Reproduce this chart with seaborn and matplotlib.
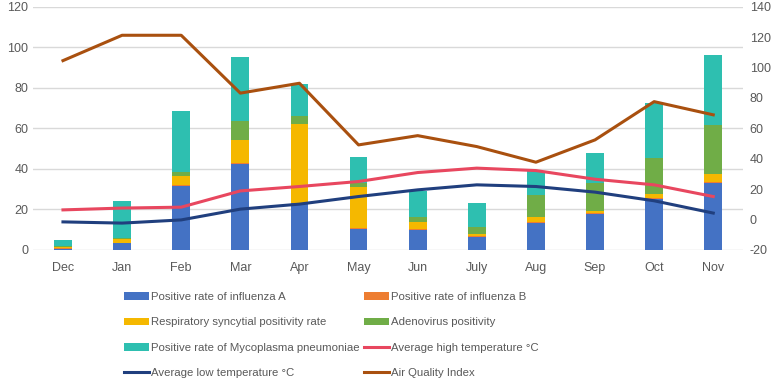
import numpy as np
import pandas as pd
import seaborn as sns
import matplotlib.pyplot as plt
from matplotlib.lines import Line2D
from matplotlib.patches import Patch

months = ['Dec', 'Jan', 'Feb', 'Mar', 'Apr', 'May', 'Jun', 'July', 'Aug', 'Sep', 'Oct', 'Nov']

# positivity rates (%), stacked bars, left axis
flu_a = [0.5, 3.3, 31.3, 42.3, 23.0, 10.4, 9.9, 6.4, 13.2, 17.6, 25.0, 33.2]
flu_b = [0.2, 0.3, 0.8, 0.7, 0.3, 0.3, 0.3, 0.3, 0.4, 0.5, 0.5, 0.5]
rsv = [0.5, 1.8, 4.6, 11.3, 38.9, 20.3, 3.5, 1.3, 2.4, 1.2, 2.0, 4.0]
adeno = [0.5, 0.4, 1.5, 9.1, 3.8, 1.9, 2.6, 3.2, 11.2, 13.9, 17.9, 23.9]
myco = [3.2, 18.4, 30.6, 31.6, 15.8, 13.0, 12.7, 11.8, 11.8, 14.4, 27.0, 34.4]

# right axis
high_temp = [6.3, 7.5, 8.1, 18.8, 21.7, 25.0, 30.9, 33.8, 32.2, 26.5, 22.8, 15.1]
low_temp = [-1.6, -2.4, -0.3, 6.8, 10.1, 15.1, 19.5, 22.8, 21.7, 18.0, 12.3, 4.2]
aqi = [104.6, 121.3, 121.3, 83.2, 89.7, 49.1, 55.2, 48.0, 37.7, 52.4, 77.6, 68.9]

bar_names = ['Positive rate of influenza A', 'Positive rate of influenza B',
             'Respiratory syncytial positivity rate', 'Adenovirus positivity',
             'Positive rate of Mycoplasma pneumoniae']
bar_colors = ['#4472C4', '#ED7D31', '#F5B800', '#70AD47', '#2EBFB0']
line_names = ['Average high temperature \u00b0C', 'Average low temperature \u00b0C', 'Air Quality Index']
line_colors = ['#E8475F', '#203F7E', '#A9500F']

plt.rcParams['font.family'] = ['Liberation Sans', 'DejaVu Sans']
plt.rcParams['font.size'] = 9
plt.rcParams['axes.unicode_minus'] = False
txt = '#595959'

df = pd.DataFrame({'month': months, 'a': flu_a, 'b': flu_b, 'rsv': rsv, 'adeno': adeno, 'myco': myco})
cols = ['a', 'b', 'rsv', 'adeno', 'myco']
cum = df[cols].cumsum(axis=1)

fig, ax = plt.subplots(figsize=(7.77, 3.82), dpi=100)
fig.subplots_adjust(left=0.043, right=0.956, top=0.982, bottom=0.346)

ax.set_axisbelow(True)
ax.yaxis.grid(True, color='#D9D9D9', linewidth=1)
# draw cumulative totals back to front so they stack
for col, c in reversed(list(zip(cols, bar_colors))):
    sns.barplot(x=df['month'], y=cum[col], color=c, width=0.3, saturation=1,
                edgecolor='none', ax=ax)

ax.set_xlim(-0.5, 11.5)
ax.set_ylim(0, 120)
ax.set_yticks(range(0, 121, 20))
ax.set_xlabel('')
ax.set_ylabel('')
ax.tick_params(axis='both', length=0, colors=txt, labelsize=9)
ax.tick_params(axis='x', pad=9)
for s in ax.spines.values():
    s.set_visible(False)

ax2 = ax.twinx()
x = np.arange(len(months))
for vals, c in zip([high_temp, low_temp, aqi], line_colors):
    sns.lineplot(x=x, y=vals, color=c, linewidth=2.2, ax=ax2)
ax2.set_ylim(-20, 140)
ax2.set_yticks(range(-20, 141, 20))
ax2.set_ylabel('')
ax2.tick_params(axis='y', length=0, colors=txt, labelsize=9, pad=5)
for s in ax2.spines.values():
    s.set_visible(False)

hb = [Patch(facecolor=c, edgecolor='none') for c in bar_colors]
hl = [Line2D([], [], color=c, linewidth=2.2) for c in line_colors]
# order so that rows read: A,B / RSV,Adeno / Myco,High / Low,AQI
handles = [hb[0], hb[2], hb[4], hl[1], hb[1], hb[3], hl[0], hl[2]]
labels = [bar_names[0], bar_names[2], bar_names[4], line_names[1],
          bar_names[1], bar_names[3], line_names[0], line_names[2]]
leg = fig.legend(handles, labels, loc='upper left', bbox_to_anchor=(124 / 777, 1 - 292 / 382),
                 ncol=2, frameon=False, fontsize=8.2, handlelength=2.2, handleheight=0.7,
                 handletextpad=0.15, columnspacing=0.4, labelspacing=1.36,
                 borderpad=0, borderaxespad=0)
for t in leg.get_texts():
    t.set_color(txt)

fig.savefig('out.png', dpi=100)
